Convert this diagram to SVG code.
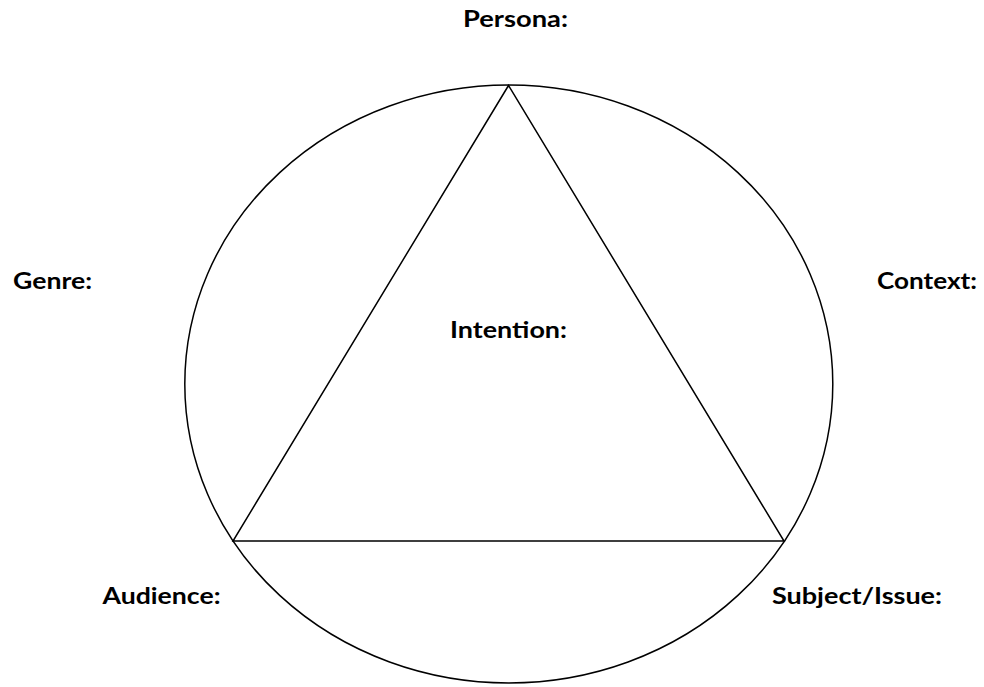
<svg xmlns="http://www.w3.org/2000/svg" width="984" height="687" viewBox="0 0 984 687">
<style>
.lbl{font-family:Lato,"Open Sans","Liberation Sans",sans-serif;font-weight:bold;font-size:23px;fill:#000}
.shape{fill:none;stroke:#000;stroke-width:1.5}
</style>
<rect width="984" height="687" fill="#fff"/>
<g id="circle"><ellipse class="shape" cx="508.8" cy="384" rx="324" ry="299"/></g>
<g id="triangle"><polygon class="shape" points="508.5,85.5 233,541 784,541" stroke-linejoin="miter"/></g>
<g id="persona"><text class="lbl" x="463" y="27" textLength="105" lengthAdjust="spacingAndGlyphs">Persona:</text></g>
<g id="genre"><text class="lbl" x="13" y="289" textLength="79" lengthAdjust="spacingAndGlyphs">Genre:</text></g>
<g id="context"><text class="lbl" x="877" y="289" textLength="100" lengthAdjust="spacingAndGlyphs">Context:</text></g>
<g id="intention"><text class="lbl" x="450" y="338" textLength="117" lengthAdjust="spacingAndGlyphs">Intention:</text></g>
<g id="audience"><text class="lbl" x="102.5" y="604" textLength="118" lengthAdjust="spacingAndGlyphs">Audience:</text></g>
<g id="subject"><text class="lbl" x="772" y="604" textLength="170" lengthAdjust="spacingAndGlyphs">Subject/Issue:</text></g>
</svg>
